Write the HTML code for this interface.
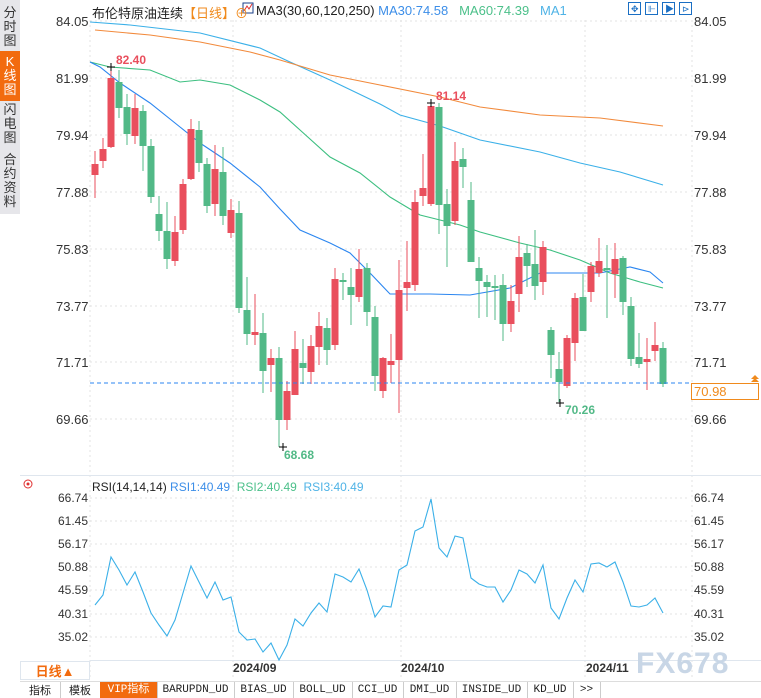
<!DOCTYPE html>
<html><head><meta charset="utf-8">
<style>
body{margin:0;width:761px;height:697px;background:#fff;overflow:hidden;font-family:"Liberation Sans","Noto Sans CJK SC",sans-serif;position:relative}
.side{position:absolute;left:0;top:0;width:20px;height:214px;background:#e6e6ea}
.side div{position:absolute;left:0;width:20px;text-align:center;font-size:13px;line-height:14px;color:#333}
.lab{position:absolute;font-size:13px;color:#333}
.tabs{position:absolute;left:20px;top:681px;height:16px;width:741px;background:#fff;border-top:1px solid #ddd}
.tab{position:absolute;top:0;height:16px;font-size:11px;line-height:16px;text-align:center;color:#222;border-right:1px solid #ccc;font-family:"Liberation Mono","Noto Sans CJK SC",monospace}
</style></head><body>
<div class="side">
<div style="top:6px">分<br>时<br>图</div>
<div style="top:51px;height:46px;background:#f26b0f;color:#fff;padding-top:4px;top:51px">K<br>线<br>图</div>
<div style="top:103px">闪<br>电<br>图</div>
<div style="top:153px">合<br>约<br>资<br>料</div>
</div>
<svg width="761" height="697" style="position:absolute;left:0;top:0" id="s">
<g stroke="#e3e3e3" stroke-dasharray="2,3" stroke-width="1">
<line x1="90" x2="690" y1="21" y2="21"/><line x1="90" x2="690" y1="78" y2="78"/><line x1="90" x2="690" y1="135" y2="135"/><line x1="90" x2="690" y1="192" y2="192"/><line x1="90" x2="690" y1="249" y2="249"/><line x1="90" x2="690" y1="306" y2="306"/><line x1="90" x2="690" y1="362" y2="362"/><line x1="90" x2="690" y1="419" y2="419"/>
<line x1="90" x2="690" y1="498" y2="498"/><line x1="90" x2="690" y1="521" y2="521"/><line x1="90" x2="690" y1="544" y2="544"/><line x1="90" x2="690" y1="567" y2="567"/><line x1="90" x2="690" y1="590" y2="590"/><line x1="90" x2="690" y1="614" y2="614"/><line x1="90" x2="690" y1="637" y2="637"/>
<line x1="233" x2="233" y1="20" y2="680"/><line x1="401" x2="401" y1="20" y2="680"/><line x1="585" x2="585" y1="20" y2="680"/>
<line x1="90" x2="90" y1="20" y2="680"/><line x1="692" x2="692" y1="20" y2="680"/>
</g>
<line x1="20" x2="761" y1="475.5" y2="475.5" stroke="#dfe6ee"/>
<line x1="90" x2="761" y1="660.5" y2="660.5" stroke="#dfe6ee"/>
<g fill="none" stroke-width="1.1">
<polyline stroke="#3bb0e8" points="90,22 130,25 200,33 260,48 290,62 330,80 380,104 400,115 440,126 480,140 540,152 580,163 620,172 663,185"/>
<polyline stroke="#f28a3c" points="95,30 150,35 200,42 250,52 280,60 330,75 380,85 440,97 480,107 540,115 600,118 663,126"/>
<polyline stroke="#3cbf80" points="90,62 110,67 150,70 180,82 200,80 230,85 260,100 280,112 300,130 330,157 360,173 390,197 420,215 460,225 480,232 520,243 550,250 580,260 610,273 640,282 663,288"/>
<polyline stroke="#2b86f0" points="90,62 100,67 120,83 150,103 180,127 200,143 230,163 260,187 280,209 300,230 330,243 350,253 370,273 390,294 430,294 470,295 510,288 540,273 600,273 630,267 650,272 663,283"/>
<polyline stroke="#3bb0e8" id="rsi" points=""/>
</g>
<g id="c"></g>
<line x1="90" x2="690" y1="383" y2="383" stroke="#2b86f0" stroke-dasharray="4,3"/>
<g stroke="#000" stroke-width="1"><line x1="107" x2="115" y1="67" y2="67"/><line x1="111" x2="111" y1="63" y2="71"/><line x1="279" x2="287" y1="447" y2="447"/><line x1="283" x2="283" y1="443" y2="451"/><line x1="427" x2="435" y1="103" y2="103"/><line x1="431" x2="431" y1="99" y2="107"/><line x1="556" x2="564" y1="403" y2="403"/><line x1="560" x2="560" y1="399" y2="407"/></g>
<g font-family="Liberation Sans" font-size="12" font-weight="bold"><text x="116" y="64" fill="#e94f5d">82.40</text><text x="284" y="459" fill="#52b987">68.68</text><text x="436" y="100" fill="#e94f5d">81.14</text><text x="565" y="414" fill="#52b987">70.26</text></g>
<rect x="691.5" y="383.5" width="67" height="16" fill="#fff" stroke="#f08a1c"/>
<text x="694" y="396" font-size="13" fill="#f08a1c" font-family="Liberation Sans">70.98</text>
<path d="M751 379 L755 375 L759 379 Z M751 382 L755 378 L759 382Z" fill="#f08a1c"/>
<g fill="none" stroke="#1a6fc4" stroke-width="1"><rect x="628.5" y="2.5" width="12" height="12"/><rect x="645.5" y="2.5" width="12" height="12"/><rect x="662.5" y="2.5" width="12" height="12"/><rect x="679.5" y="2.5" width="12" height="12"/></g>
<g fill="#1a6fc4" font-size="9"><text x="631" y="12">✥</text><text x="648" y="12">⊩</text><text x="665" y="12">▶</text><text x="682" y="12">⊳</text></g>
<rect x="243" y="3" width="10" height="10" fill="#fff" stroke="#1a3f8a"/><polyline points="244,11 247,6 249,9 252,4" fill="none" stroke="#e03030"/>
<circle cx="28" cy="484" r="4" fill="none" stroke="#e03030"/><circle cx="28" cy="484" r="1.5" fill="#e03030"/>
<text x="636" y="673" font-size="30" font-weight="bold" fill="#c8d6e6" font-family="Liberation Sans" letter-spacing="1">FX678</text>
</svg>
<div class="lab" style="left:92px;top:3px;font-size:13px;color:#222;white-space:nowrap">布伦特原油连续<span style="color:#f08a1c">【日线】⊕</span></div>
<div class="lab" style="left:256px;top:3px;font-size:13px;color:#222;white-space:nowrap">MA3(30,60,120,250) <span style="color:#3c8ee8">MA30:74.58</span>&nbsp;&nbsp; <span style="color:#4cc08a">MA60:74.39</span>&nbsp;&nbsp; <span style="color:#4fb3e6">MA1</span></div>
<div class="lab" style="left:92px;top:480px;font-size:12px;color:#222;white-space:nowrap">RSI(14,14,14) <span style="color:#3c8ee8">RSI1:40.49</span>&nbsp; <span style="color:#4cc08a">RSI2:40.49</span>&nbsp; <span style="color:#4fb3e6">RSI3:40.49</span></div>
<div style="position:absolute;left:20px;top:661px;width:70px;height:19px;border:1px solid #dfe6ee;box-sizing:border-box;color:#f26b0f;font-size:13px;font-weight:bold;line-height:19px;text-align:center">日线▲</div>
<div class="lab" style="left:233px;top:661px;font-size:12px;font-weight:bold;color:#333">2024/09</div>
<div class="lab" style="left:401px;top:661px;font-size:12px;font-weight:bold;color:#333">2024/10</div>
<div class="lab" style="left:586px;top:661px;font-size:12px;font-weight:bold;color:#333">2024/11</div>
<div class="tabs">
<div class="tab" style="left:0;width:40px;font-family:'Noto Sans CJK SC',sans-serif">指标</div>
<div class="tab" style="left:40px;width:40px;font-family:'Noto Sans CJK SC',sans-serif">模板</div>
<div class="tab" style="left:80px;width:57px;background:#f26b0f;color:#fff">VIP指标</div>
<div class="tab" style="left:137px;width:77px">BARUPDN_UD</div>
<div class="tab" style="left:214px;width:59px">BIAS_UD</div>
<div class="tab" style="left:273px;width:59px">BOLL_UD</div>
<div class="tab" style="left:332px;width:51px">CCI_UD</div>
<div class="tab" style="left:383px;width:53px">DMI_UD</div>
<div class="tab" style="left:436px;width:71px">INSIDE_UD</div>
<div class="tab" style="left:507px;width:46px">KD_UD</div>
<div class="tab" style="left:553px;width:27px">&gt;&gt;</div>
</div>
<div class="lab" style="left:56px;top:14px">84.05</div><div class="lab" style="left:56px;top:71px">81.99</div><div class="lab" style="left:56px;top:128px">79.94</div><div class="lab" style="left:56px;top:185px">77.88</div><div class="lab" style="left:56px;top:242px">75.83</div><div class="lab" style="left:56px;top:299px">73.77</div><div class="lab" style="left:56px;top:355px">71.71</div><div class="lab" style="left:56px;top:412px">69.66</div>
<div class="lab" style="left:694px;top:14px">84.05</div><div class="lab" style="left:694px;top:71px">81.99</div><div class="lab" style="left:694px;top:128px">79.94</div><div class="lab" style="left:694px;top:185px">77.88</div><div class="lab" style="left:694px;top:242px">75.83</div><div class="lab" style="left:694px;top:299px">73.77</div><div class="lab" style="left:694px;top:355px">71.71</div><div class="lab" style="left:694px;top:412px">69.66</div>
<div class="lab" style="font-size:12px;left:58px;top:491px">66.74</div><div class="lab" style="font-size:12px;left:58px;top:514px">61.45</div><div class="lab" style="font-size:12px;left:58px;top:537px">56.17</div><div class="lab" style="font-size:12px;left:58px;top:560px">50.88</div><div class="lab" style="font-size:12px;left:58px;top:583px">45.59</div><div class="lab" style="font-size:12px;left:58px;top:607px">40.31</div><div class="lab" style="font-size:12px;left:58px;top:630px">35.02</div>
<div class="lab" style="font-size:12px;left:694px;top:491px">66.74</div><div class="lab" style="font-size:12px;left:694px;top:514px">61.45</div><div class="lab" style="font-size:12px;left:694px;top:537px">56.17</div><div class="lab" style="font-size:12px;left:694px;top:560px">50.88</div><div class="lab" style="font-size:12px;left:694px;top:583px">45.59</div><div class="lab" style="font-size:12px;left:694px;top:607px">40.31</div><div class="lab" style="font-size:12px;left:694px;top:630px">35.02</div>
<script>
var D=[[1,164,175,151,198],[1,149,161,138,168],[1,78,147,67,148],[0,82,108,70,118],[0,107,134,94,145],[1,108,136,94,144],[0,111,146,105,171],[0,146,197,139,203],[0,214,231,196,241],[0,231,259,202,269],[1,232,261,216,266],[1,184,230,179,234],[1,129,179,119,180],[0,130,163,121,172],[0,164,206,158,213],[1,169,204,145,216],[0,172,216,147,225],[1,210,233,199,238],[0,213,308,201,313],[0,310,334,277,345],[1,332,335,294,345],[0,333,371,313,393],[1,358,365,349,392],[0,358,420,347,447],[1,391,420,381,430],[1,349,395,331,395],[0,363,368,339,384],[1,346,372,335,384],[1,326,347,312,365],[0,328,350,318,365],[1,279,345,268,350],[0,280,282,273,300],[0,287,295,268,325],[1,269,297,249,302],[0,268,312,263,326],[0,317,376,306,391],[1,358,391,357,398],[1,361,365,334,383],[1,290,360,260,413],[1,282,288,241,311],[1,202,285,190,291],[1,188,196,154,206],[1,106,204,103,206],[0,107,205,103,234],[0,204,226,189,267],[1,161,221,142,225],[0,159,167,148,188],[0,200,262,182,262],[0,268,281,257,318],[0,282,287,275,317],[0,286,287,275,320],[0,285,324,274,341],[1,301,324,285,332],[1,257,294,236,312],[0,253,266,244,287],[0,264,286,230,300],[1,247,282,241,295],[0,330,355,327,378],[0,369,382,352,402],[1,338,386,335,388],[1,298,343,293,361],[0,297,331,274,331],[1,266,292,262,302],[1,261,273,238,277],[0,268,270,245,318],[1,259,274,243,298],[0,258,302,256,315],[0,306,359,297,366],[0,357,364,333,368],[1,359,362,338,390],[1,345,351,322,361],[0,348,384,342,387]];
var g=document.getElementById('c'),h='';
D.forEach(function(d,i){var x=95+8*i,c=d[0]?'#e94f5d':'#52b987';h+='<rect x="'+(x-0.5)+'" y="'+d[3]+'" width="1" height="'+(d[4]-d[3])+'" fill="'+c+'"/><rect x="'+(x-3.5)+'" y="'+d[1]+'" width="7" height="'+Math.max(2,d[2]-d[1])+'" fill="'+c+'"/>';});
g.innerHTML=h;
var R=[605,595,557,570,585,572,592,613,625,636,620,593,566,582,598,582,600,597,632,640,639,652,643,660,645,619,626,613,603,612,574,577,582,569,590,617,606,607,570,565,531,527,499,548,557,536,538,578,584,587,587,602,590,570,574,583,565,608,619,598,580,592,564,563,567,562,582,606,607,605,598,613];
document.getElementById('rsi').setAttribute('points',R.map(function(y,i){return (95+8*i)+','+y}).join(' '));
</script>
</body></html>
